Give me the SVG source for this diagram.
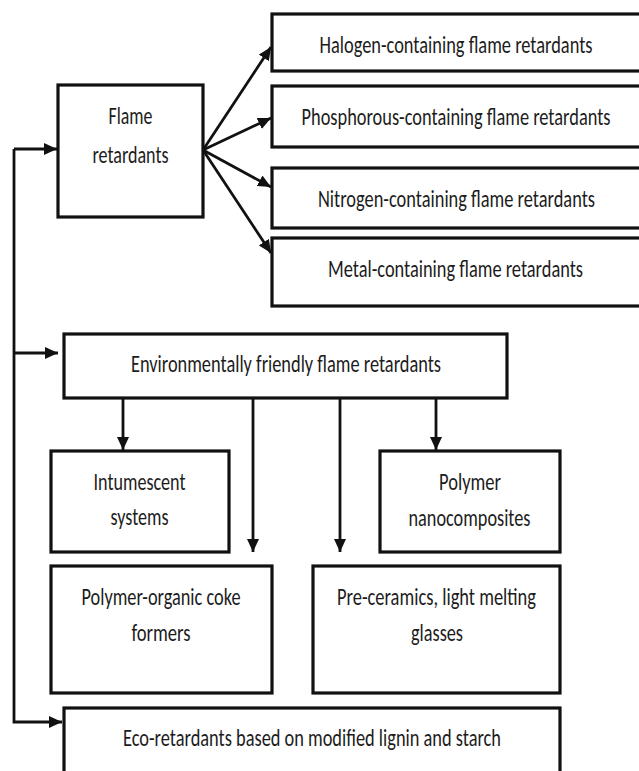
<svg xmlns="http://www.w3.org/2000/svg" width="639" height="771" viewBox="0 0 639 771">
<style>
.box{fill:#fff;stroke:#111;stroke-width:3.2}
.t{font-family:Carlito,Calibri,"Liberation Sans",sans-serif;font-size:24px;fill:#1c1c1c;text-anchor:middle}
.c{fill:none;stroke:#111;stroke-width:2.8}
</style>
<defs>
<marker id="ah" markerUnits="userSpaceOnUse" markerWidth="14" markerHeight="12" refX="13" refY="6" orient="auto">
<path d="M0,0 L13,6 L0,12 z" fill="#111"/>
</marker>
</defs>
<rect width="639" height="771" fill="#fff"/>
<g id="connectors">
<path class="c" d="M14,149 V722 H62" marker-end="url(#ah)"/>
<path class="c" d="M14,149 H57" marker-end="url(#ah)"/>
<path class="c" d="M14,353 H58" marker-end="url(#ah)"/>
<path class="c" d="M203,150 L271,47" marker-end="url(#ah)"/>
<path class="c" d="M203,150 L271,118" marker-end="url(#ah)"/>
<path class="c" d="M203,150 L271,187" marker-end="url(#ah)"/>
<path class="c" d="M203,150 L271,253" marker-end="url(#ah)"/>
<path class="c" d="M123,398 V450" marker-end="url(#ah)"/>
<path class="c" d="M253,398 V552" marker-end="url(#ah)"/>
<path class="c" d="M340,398 V552" marker-end="url(#ah)"/>
<path class="c" d="M436,398 V450" marker-end="url(#ah)"/>
</g>
<g id="flame">
<rect class="box" x="58" y="85" width="145" height="132"/>
<text class="t" x="130.5" y="124" textLength="44" lengthAdjust="spacingAndGlyphs">Flame</text>
<text class="t" x="130.5" y="163" textLength="76" lengthAdjust="spacingAndGlyphs">retardants</text>
</g>
<g id="halogen">
<rect class="box" x="272" y="14" width="369" height="57"/>
<text class="t" x="456" y="53" textLength="273" lengthAdjust="spacingAndGlyphs">Halogen-containing flame retardants</text>
</g>
<g id="phosphorous">
<rect class="box" x="272" y="86" width="369" height="61"/>
<text class="t" x="456" y="125" textLength="309" lengthAdjust="spacingAndGlyphs">Phosphorous-containing flame retardants</text>
</g>
<g id="nitrogen">
<rect class="box" x="272" y="168" width="369" height="60"/>
<text class="t" x="456.5" y="207" textLength="277" lengthAdjust="spacingAndGlyphs">Nitrogen-containing flame retardants</text>
</g>
<g id="metal">
<rect class="box" x="272" y="238" width="369" height="68"/>
<text class="t" x="455.5" y="277" textLength="255" lengthAdjust="spacingAndGlyphs">Metal-containing flame retardants</text>
</g>
<g id="eco-friendly">
<rect class="box" x="64" y="334" width="443" height="64"/>
<text class="t" x="286" y="372" textLength="310" lengthAdjust="spacingAndGlyphs">Environmentally friendly flame retardants</text>
</g>
<g id="intumescent">
<rect class="box" x="51" y="451" width="178" height="101"/>
<text class="t" x="139.5" y="490" textLength="92" lengthAdjust="spacingAndGlyphs">Intumescent</text>
<text class="t" x="139.5" y="525" textLength="58" lengthAdjust="spacingAndGlyphs">systems</text>
</g>
<g id="nanocomposites">
<rect class="box" x="380" y="451" width="180" height="101"/>
<text class="t" x="470" y="490" textLength="62" lengthAdjust="spacingAndGlyphs">Polymer</text>
<text class="t" x="469.5" y="526" textLength="122" lengthAdjust="spacingAndGlyphs">nanocomposites</text>
</g>
<g id="coke-formers">
<rect class="box" x="51" y="566" width="221" height="127"/>
<text class="t" x="161" y="605" textLength="159" lengthAdjust="spacingAndGlyphs">Polymer-organic coke</text>
<text class="t" x="161" y="641" textLength="59" lengthAdjust="spacingAndGlyphs">formers</text>
</g>
<g id="pre-ceramics">
<rect class="box" x="313" y="566" width="247" height="127"/>
<text class="t" x="436.5" y="605" textLength="199" lengthAdjust="spacingAndGlyphs">Pre-ceramics, light melting</text>
<text class="t" x="437" y="641" textLength="52" lengthAdjust="spacingAndGlyphs">glasses</text>
</g>
<g id="eco-retardants">
<rect class="box" x="64" y="708" width="496" height="90"/>
<text class="t" x="312" y="745.5" textLength="378" lengthAdjust="spacingAndGlyphs">Eco-retardants based on modified lignin and starch</text>
</g>
</svg>
